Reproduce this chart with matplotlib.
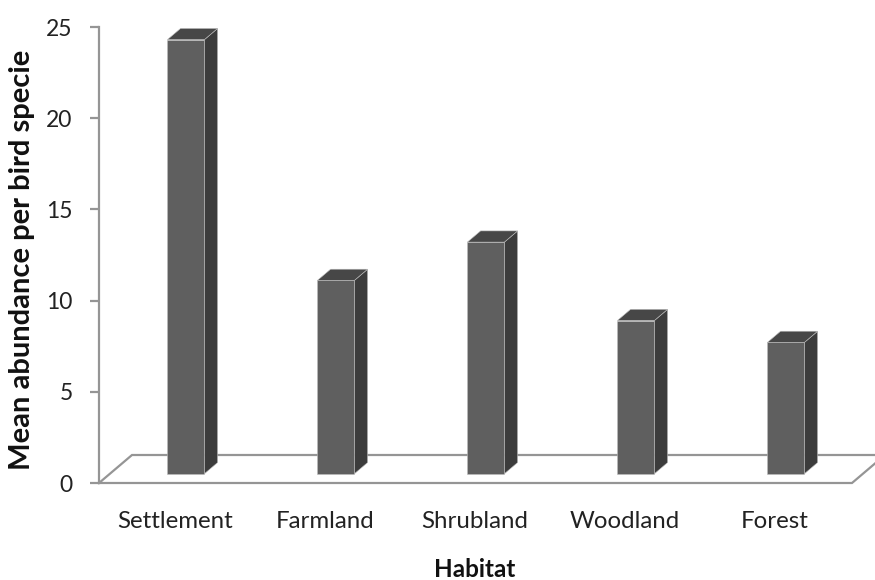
import matplotlib
matplotlib.use("Agg")
import matplotlib.pyplot as plt
from matplotlib.patches import Polygon

plt.rcParams['font.family'] = ['Lato', 'DejaVu Sans']

categories = ["Settlement", "Farmland", "Shrubland", "Woodland", "Forest"]
values = [23.8, 10.6, 12.7, 8.4, 7.2]
yticks = [0, 5, 10, 15, 20, 25]
xlabel = "Habitat"
ylabel = "Mean abundance per bird specie"

W, H = 875, 580
fig = plt.figure(figsize=(W / 100, H / 100), dpi=100)
# axes: x pixels 99..875, y pixels 27..483 (from top)
ax = fig.add_axes([99 / W, (H - 483) / H, (W - 99) / W, (483 - 27) / H])

px_per_x = 150.0
px_per_y = 456.0 / 25
x0 = -(175 - 99) / px_per_x
ax.set_xlim(x0, x0 + (W - 99) / px_per_x)
ax.set_ylim(0, 25)

# oblique depth vector (data units)
DX = 33 / px_per_x
DY = 28 / px_per_y
f0, f1 = 0.33, 0.73
bw = 37 / px_per_x

grey = '#959595'
# floor
n = len(categories)
fl = x0
fr = (852 - 99) / px_per_x + x0
floor = [(fl, 0), (fr, 0), (fr + DX, DY), (fl + DX, DY), (fl, 0)]
ax.plot([p[0] for p in floor], [p[1] for p in floor], color=grey, lw=1.6,
        clip_on=False, zorder=1, solid_joinstyle='miter')

front_c = '#5f5f5f'
side_c = '#3c3c3c'
top_c = '#474747'
edge_c = '#bdbdbd'

xs = list(range(n))
lefts = [x - bw / 2 + f0 * DX for x in xs]
base = f0 * DY
ddx = (f1 - f0) * DX
ddy = (f1 - f0) * DY
for xl, v in zip(lefts, values):
    xr = xl + bw
    top = base + v
    side = Polygon([(xr, base), (xr + ddx, base + ddy), (xr + ddx, top + ddy), (xr, top)],
                   closed=True, facecolor=side_c, edgecolor=edge_c, lw=0.4, zorder=2, clip_on=False)
    tp = Polygon([(xl, top), (xr, top), (xr + ddx, top + ddy), (xl + ddx, top + ddy)],
                 closed=True, facecolor=top_c, edgecolor=edge_c, lw=0.4, zorder=2, clip_on=False)
    ax.add_patch(side)
    ax.add_patch(tp)
ax.bar(lefts, values, width=bw, bottom=base, align='edge', color=front_c,
       edgecolor=edge_c, linewidth=0.4, zorder=3, clip_on=False)

for s in ['top', 'right', 'bottom']:
    ax.spines[s].set_visible(False)
ax.spines['left'].set_color(grey)
ax.spines['left'].set_linewidth(1.6)

ax.set_yticks(yticks)
ax.set_yticklabels([str(t) for t in yticks], fontsize=16.5, color='#222222')
ax.tick_params(axis='y', length=6.5, width=1.6, color=grey, pad=12.5)
ax.set_xticks(xs)
ax.set_xticklabels(categories, fontsize=17.3, color='#222222')
ax.tick_params(axis='x', length=0, pad=20)

ax.set_ylabel(ylabel, fontsize=21, fontweight='bold', color='#111111')
ax.yaxis.set_label_coords((35 - 99) / (W - 99), 0.489)
ax.set_xlabel(xlabel, fontsize=17.5, fontweight='bold', color='#111111')
ax.xaxis.set_label_coords((475 - 99) / (W - 99), (483 - 558) / 456)

fig.savefig("out.png", dpi=100)
